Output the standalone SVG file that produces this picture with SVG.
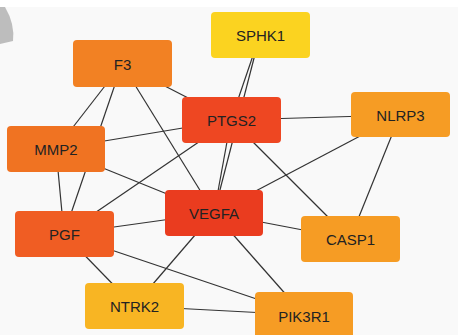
<svg xmlns="http://www.w3.org/2000/svg" width="458" height="335" viewBox="0 0 458 335">
<style>
.e{stroke:#333;stroke-width:1.2;fill:none}
.n rect{rx:4;ry:4}
.n text{font-family:"Liberation Sans",Arial,sans-serif;font-size:15px;fill:#222;text-anchor:middle;dominant-baseline:central}
</style>
<rect x="0" y="0" width="458" height="335" fill="#f9f9f9"/>
<rect x="0" y="0" width="458" height="7" fill="#ffffff"/>
<path d="M0,7 L5,7 Q15,24 13,41 L0,44 Z" fill="#bdbdbd"/>
<g id="connectors">
<line class="e" x1="122" y1="64" x2="56" y2="149"/>
<line class="e" x1="122" y1="64" x2="64" y2="234"/>
<line class="e" x1="122" y1="64" x2="231" y2="120"/>
<line class="e" x1="122" y1="64" x2="214" y2="213"/>
<line class="e" x1="56" y1="149" x2="64" y2="234"/>
<line class="e" x1="56" y1="149" x2="231" y2="120"/>
<line class="e" x1="56" y1="149" x2="214" y2="213"/>
<line class="e" x1="64" y1="234" x2="231" y2="120"/>
<line class="e" x1="64" y1="234" x2="214" y2="213"/>
<line class="e" x1="64" y1="234" x2="134" y2="306"/>
<line class="e" x1="64" y1="234" x2="304" y2="315"/>
<line class="e" x1="214" y1="213" x2="134" y2="306"/>
<line class="e" x1="214" y1="213" x2="304" y2="315"/>
<line class="e" x1="214" y1="213" x2="350" y2="239"/>
<line class="e" x1="400" y1="115" x2="214" y2="213"/>
<line class="e" x1="400" y1="115" x2="350" y2="239"/>
<line class="e" x1="231" y1="120" x2="400" y2="115"/>
<line class="e" x1="231" y1="120" x2="350" y2="239"/>
<line class="e" x1="134" y1="306" x2="304" y2="315"/>
<line class="e" x1="260" y1="35" x2="231" y2="120"/>
<line class="e" x1="260" y1="35" x2="214" y2="213"/>
<line class="e" x1="231" y1="120" x2="214" y2="213"/>
</g>
<g id="SPHK1" class="n"><rect x="211" y="12" width="99" height="46" fill="#fbd320"/><text x="260.5" y="35">SPHK1</text></g>
<g id="F3" class="n"><rect x="73" y="40" width="99" height="47" fill="#f28123"/><text x="122.5" y="64">F3</text></g>
<g id="PTGS2" class="n"><rect x="182" y="97" width="99" height="46" fill="#ee4722"/><text x="231.5" y="120">PTGS2</text></g>
<g id="NLRP3" class="n"><rect x="351" y="92" width="99" height="45" fill="#f69c24"/><text x="400.5" y="115">NLRP3</text></g>
<g id="MMP2" class="n"><rect x="7" y="126" width="98" height="46" fill="#f07322"/><text x="56" y="149">MMP2</text></g>
<g id="PGF" class="n"><rect x="15" y="211" width="99" height="46" fill="#f05d23"/><text x="64.5" y="234">PGF</text></g>
<g id="VEGFA" class="n"><rect x="165" y="190" width="98" height="46" fill="#ea3c1f"/><text x="214" y="213">VEGFA</text></g>
<g id="CASP1" class="n"><rect x="301" y="216" width="99" height="46" fill="#f69c24"/><text x="350.5" y="239">CASP1</text></g>
<g id="NTRK2" class="n"><rect x="85" y="283" width="99" height="46" fill="#f8b523"/><text x="134.5" y="306">NTRK2</text></g>
<g id="PIK3R1" class="n"><rect x="255" y="292" width="98" height="47" fill="#f69c24"/><text x="304" y="316">PIK3R1</text></g>
</svg>
